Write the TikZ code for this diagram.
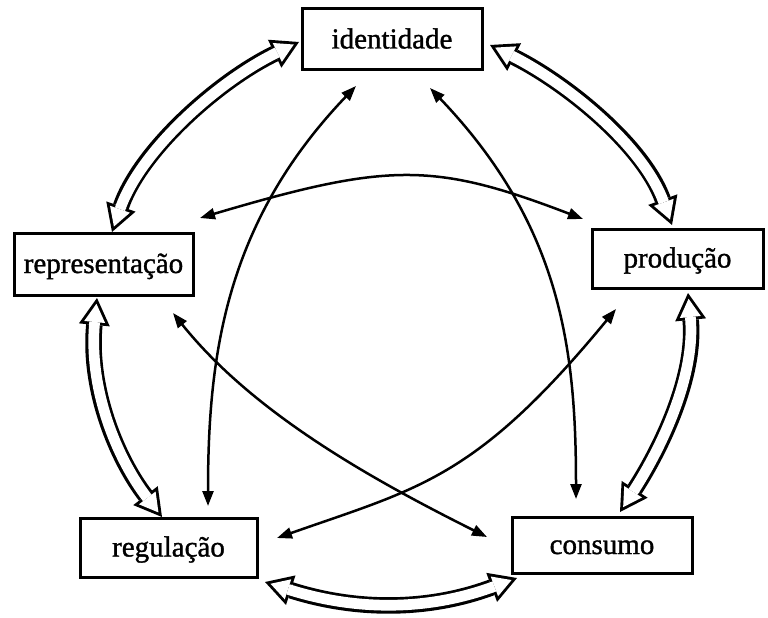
\documentclass[tikz,border=0pt]{standalone}
\usepackage{fontspec}
\setmainfont{Liberation Serif}[FakeBold=1.2]
\usetikzlibrary{arrows.meta}
\newcommand\hollowpath[1]{\draw[hollowout] #1; \draw[hollowin] #1;}
\begin{document}
\begin{tikzpicture}[x=1pt,y=-1pt,
  box/.style={draw, line width=3pt, inner sep=0pt, font=\fontsize{29}{34}\selectfont, text height=23pt, text depth=5pt},
  thinarrow/.style={line width=2.5pt, {Triangle[length=15pt,width=11pt]}-{Triangle[length=15pt,width=11pt]}},
  hollowout/.style={black, line width=16.5pt, {Triangle[length=27pt,width=31pt,line width=0pt]}-{Triangle[length=27pt,width=31pt,line width=0pt]}},
  hollowin/.style={white, line width=10.7pt, shorten <=5.8pt, shorten >=5.8pt, {Triangle[length=18.3pt,width=21pt,line width=0pt]}-{Triangle[length=18.3pt,width=21pt,line width=0pt]}},
]
\fill[white] (0,0) rectangle (768,618);
\useasboundingbox (0,0) rectangle (768,618);

% boxes
\node[box, minimum width=180pt, minimum height=61pt] (ident) at (392,39.5) {identidade};
\node[box, minimum width=179pt, minimum height=62pt] (rep) at (103.5,264) {representação};
\node[box, minimum width=171pt, minimum height=59pt] (prod) at (677.5,258.5) {produção};
\node[box, minimum width=177pt, minimum height=59pt] (reg) at (168.5,547.5) {regulação};
\node[box, minimum width=180pt, minimum height=56pt] (cons) at (602,545) {consumo};

% end points of the hollow arrows
\coordinate (rep-n) at (112,232);
\coordinate (ident-w) at (299,42);
\coordinate (ident-e) at (490,45);
\coordinate (prod-n) at (672,225);
\coordinate (rep-s) at (97,298);
\coordinate (reg-n) at (162,517);
\coordinate (prod-s) at (688,293);
\coordinate (cons-n) at (620,512);
\coordinate (reg-se) at (265,582);
\coordinate (cons-sw) at (517,578);

% hollow arrows between neighbours
\hollowpath{(rep-n) .. controls (141,149) and (220,80) .. (ident-w)}
\hollowpath{(ident-e) .. controls (566,83) and (643,145) .. (prod-n)}
\hollowpath{(rep-s) .. controls (88,390) and (118,460) .. (reg-n)}
\hollowpath{(prod-s) .. controls (696,375) and (662,447) .. (cons-n)}
\hollowpath{(reg-se) .. controls (356,611) and (428,611) .. (cons-sw)}

% end points of the thin arrows
\coordinate (t-reg-a) at (208,506);
\coordinate (t-ident-a) at (356,86);
\coordinate (t-cons-a) at (576,499);
\coordinate (t-ident-b) at (430,88);
\coordinate (t-rep-a) at (200,218);
\coordinate (t-prod-a) at (583,219);
\coordinate (t-rep-b) at (173,313);
\coordinate (t-cons-b) at (487,537);
\coordinate (t-reg-b) at (277,538);
\coordinate (t-prod-b) at (616,309);

% thin arrows between non-neighbours
\draw[thinarrow] (t-reg-a) .. controls (208,356) and (225,223) .. (t-ident-a);
\draw[thinarrow] (t-cons-a) .. controls (576,349) and (561,225) .. (t-ident-b);
\draw[thinarrow] (t-rep-a) .. controls (389,162) and (434,162) .. (t-prod-a);
\draw[thinarrow] (t-rep-b) .. controls (253,413) and (371,479) .. (t-cons-b);
\draw[thinarrow] (t-reg-b) .. controls (419,488) and (476,479) .. (t-prod-b);
\end{tikzpicture}
\end{document}
